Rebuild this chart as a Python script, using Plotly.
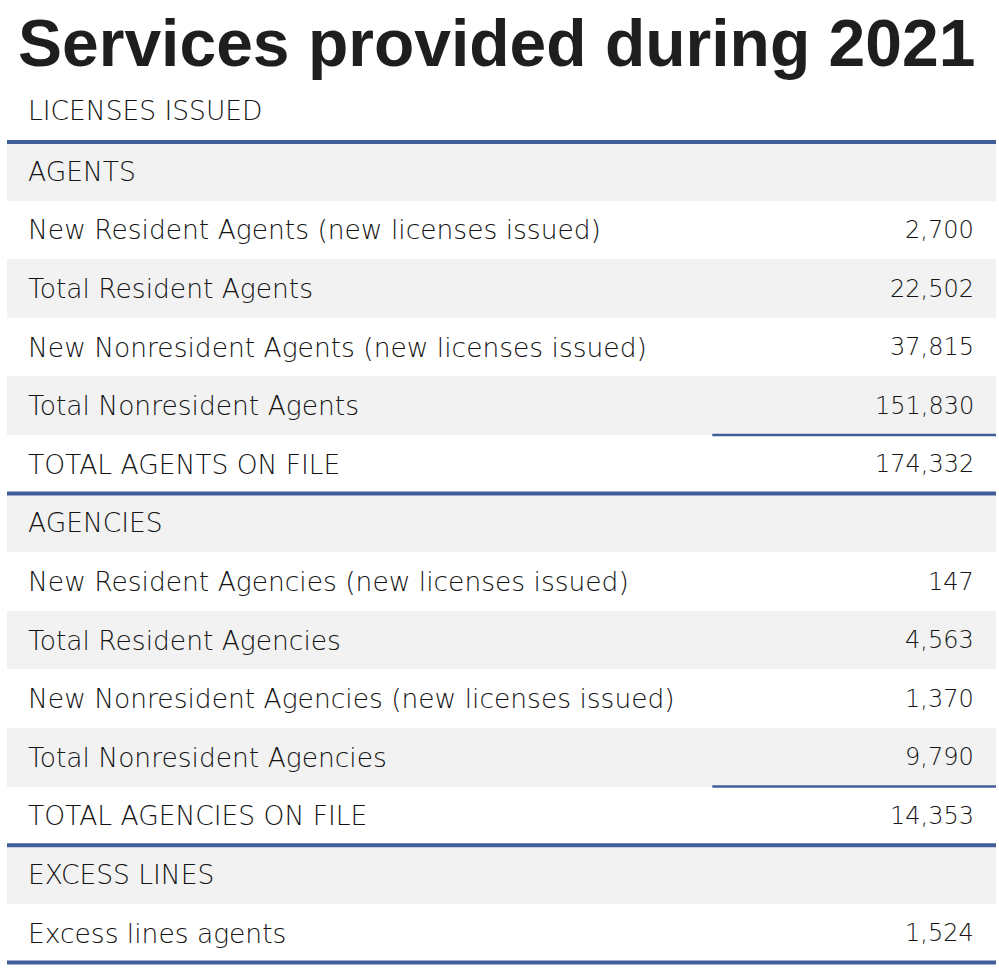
import plotly.graph_objects as go

# ---- data ----
title_text = "Services provided during 2021"
heading = "LICENSES ISSUED"
row_labels = [
    "AGENTS",
    "New Resident Agents (new licenses issued)",
    "Total Resident Agents",
    "New Nonresident Agents (new licenses issued)",
    "Total Nonresident Agents",
    "TOTAL AGENTS ON FILE",
    "AGENCIES",
    "New Resident Agencies (new licenses issued)",
    "Total Resident Agencies",
    "New Nonresident Agencies (new licenses issued)",
    "Total Nonresident Agencies",
    "TOTAL AGENCIES ON FILE",
    "EXCESS LINES",
    "Excess lines agents",
]
row_values = [None, 2700, 22502, 37815, 151830, 174332,
              None, 147, 4563, 1370, 9790, 14353,
              None, 1524]
# rows after which a rule is drawn: full-width or under the value column only
full_rules = [0, 6, 12, 14]
partial_rules = [5, 11]

# ---- style ----
BLUE = "#425e98"
GRAY = "#f2f2f2"
TEXT = "#141414"
BODY_FONT = "DejaVu Sans"
X_LEFT, X_RIGHT = 0.007, 0.997
X_TEXT, X_NUM = 0.026, 0.977
X_PARTIAL = 0.713

n = len(row_labels)
fig = go.Figure()

# alternating gray row backgrounds (even rows)
gray_rows = [i + 0.5 for i in range(n) if i % 2 == 0]
fig.add_trace(go.Bar(
    orientation="h",
    y=gray_rows,
    x=[X_RIGHT - X_LEFT] * len(gray_rows),
    base=[X_LEFT] * len(gray_rows),
    width=1,
    marker=dict(color=GRAY, line=dict(width=0)),
    hoverinfo="skip",
    showlegend=False,
))

# rules
for r in full_rules:
    fig.add_shape(type="line", xref="x", yref="y", x0=X_LEFT, x1=X_RIGHT, y0=r, y1=r,
                  line=dict(color=BLUE, width=4), layer="above")
for r in partial_rules:
    fig.add_shape(type="line", xref="x", yref="y", x0=X_PARTIAL, x1=X_RIGHT, y0=r, y1=r,
                  line=dict(color=BLUE, width=2.5), layer="above")

label_font = dict(family=BODY_FONT, size=26.5, color=TEXT, weight=300)
num_font = dict(family=BODY_FONT, size=24, color=TEXT, weight=300)

# row labels and values
for i, (lab, val) in enumerate(zip(row_labels, row_values)):
    fig.add_annotation(x=X_TEXT, y=i + 0.5, xref="x", yref="y", text=lab,
                       showarrow=False, xanchor="left", yanchor="middle",
                       font=label_font)
    if val is not None:
        fig.add_annotation(x=X_NUM, y=i + 0.5, xref="x", yref="y", text=f"{val:,}",
                           showarrow=False, xanchor="right", yanchor="middle",
                           font=num_font)

# heading and title
fig.add_annotation(x=X_TEXT, y=-0.53, xref="x", yref="y", text=heading,
                   showarrow=False, xanchor="left", yanchor="middle",
                   font=label_font)
fig.add_annotation(x=0.016, y=-1.69, xref="x", yref="y", text=f"<b>{title_text}</b>",
                   showarrow=False, xanchor="left", yanchor="middle",
                   font=dict(family="Liberation Sans", size=66, color="#1e1e1e"))

px_top, px_row, H = 142.0, 58.6, 969
y_top = -px_top / px_row
y_bot = (H - px_top) / px_row

fig.update_layout(
    width=999, height=969,
    margin=dict(l=0, r=0, t=0, b=0),
    paper_bgcolor="white", plot_bgcolor="white",
    bargap=0,
    xaxis=dict(range=[0, 1], visible=False, fixedrange=True),
    yaxis=dict(range=[y_bot, y_top], visible=False, fixedrange=True),
    showlegend=False,
)

fig.write_html(
    "out.html",
    config={"displayModeBar": False},
    post_script="document.body.style.margin='0';document.body.style.overflow='hidden';",
)
